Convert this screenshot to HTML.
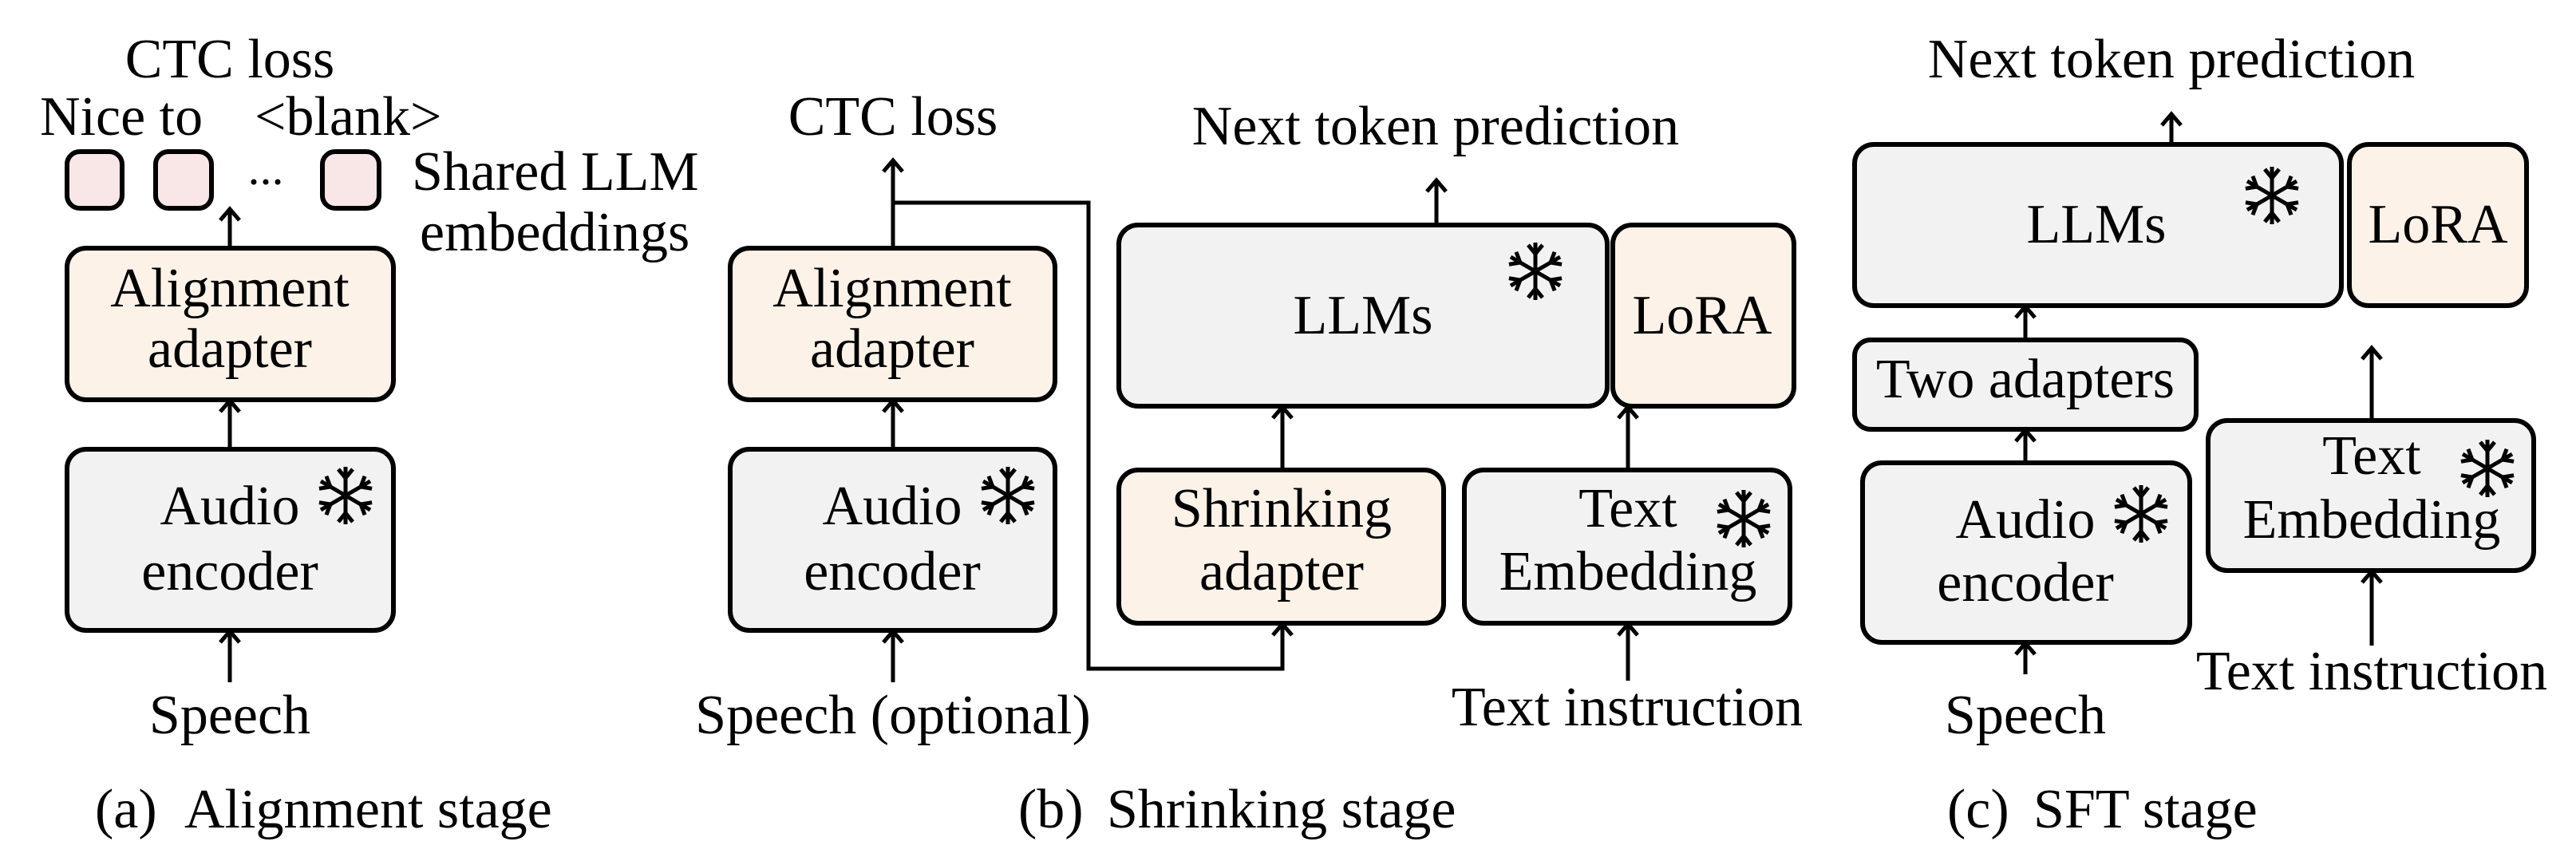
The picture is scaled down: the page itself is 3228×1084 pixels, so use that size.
<!DOCTYPE html>
<html><head><meta charset="utf-8"><style>
html,body{margin:0;padding:0;background:#fff}
svg{display:block}
text{font-family:"Liberation Serif","DejaVu Serif",serif;font-size:70px;fill:#000}
</style></head><body>
<svg width="3228" height="1084" viewBox="0 0 3228 1084" xmlns="http://www.w3.org/2000/svg">
<defs>
<g id="sf" stroke="#000" stroke-width="5" fill="none" stroke-linecap="butt">
  <line x1="0" y1="-36" x2="0" y2="36"/>
  <line x1="-31" y1="-18" x2="31" y2="18"/>
  <line x1="-31" y1="18" x2="31" y2="-18"/>
  <polyline points="-9,-33 0,-22 9,-33"/>
  <polyline points="-9,33 0,22 9,33"/>
  <g transform="rotate(60)"><polyline points="-9,-33 0,-22 9,-33"/><polyline points="-9,33 0,22 9,33"/></g>
  <g transform="rotate(-60)"><polyline points="-9,-33 0,-22 9,-33"/><polyline points="-9,33 0,22 9,33"/></g>
</g>
</defs>
<g stroke="#000" stroke-width="6">
  <!-- panel a -->
  <rect x="84" y="190" width="69" height="71" rx="16" fill="#f9e6e6"/>
  <rect x="195" y="190" width="70" height="71" rx="16" fill="#f9e6e6"/>
  <rect x="404" y="190" width="71" height="71" rx="16" fill="#f9e6e6"/>
  <rect x="84" y="311" width="409" height="190" rx="24" fill="#fcf2e8"/>
  <rect x="84" y="563" width="409" height="227" rx="24" fill="#f2f2f2"/>
  <!-- panel b -->
  <rect x="915" y="311" width="407" height="190" rx="24" fill="#fcf2e8"/>
  <rect x="915" y="563" width="407" height="227" rx="24" fill="#f2f2f2"/>
  <rect x="1402" y="282" width="612" height="227" rx="24" fill="#f2f2f2"/>
  <rect x="2021" y="282" width="227" height="227" rx="24" fill="#fcf2e8"/>
  <rect x="1402" y="589" width="407" height="192" rx="24" fill="#fcf2e8"/>
  <rect x="1835" y="589" width="408" height="192" rx="24" fill="#f2f2f2"/>
  <!-- panel c -->
  <rect x="2324" y="181" width="610" height="202" rx="24" fill="#f2f2f2"/>
  <rect x="2944" y="181" width="222" height="202" rx="24" fill="#fcf2e8"/>
  <rect x="2324" y="426" width="428" height="112" rx="20" fill="#f2f2f2"/>
  <rect x="2334" y="580" width="410" height="225" rx="24" fill="#f2f2f2"/>
  <rect x="2767" y="527" width="408" height="188" rx="24" fill="#f2f2f2"/>
</g>
<g stroke="#000" stroke-width="5" fill="none">
  <!-- arrows a -->
  <line x1="288" y1="311" x2="288" y2="263"/><polyline points="276,276 288,262 300,276"/>
  <line x1="288" y1="563" x2="288" y2="503"/><polyline points="276,516 288,502 300,516"/>
  <line x1="288" y1="855" x2="288" y2="792"/><polyline points="276,805 288,791 300,805"/>
  <!-- arrows b -->
  <polyline points="1119,311 1119,202"/><polyline points="1107,215 1119,201 1131,215"/>
  <polyline points="1119,254 1364,254 1364,838 1607,838 1607,783"/><polyline points="1595,796 1607,782 1619,796"/>
  <line x1="1119" y1="563" x2="1119" y2="503"/><polyline points="1107,516 1119,502 1131,516"/>
  <line x1="1119" y1="855" x2="1119" y2="792"/><polyline points="1107,805 1119,791 1131,805"/>
  <line x1="1800" y1="282" x2="1800" y2="227"/><polyline points="1788,240 1800,226 1812,240"/>
  <line x1="1607" y1="589" x2="1607" y2="511"/><polyline points="1595,524 1607,510 1619,524"/>
  <line x1="2040" y1="589" x2="2040" y2="511"/><polyline points="2028,524 2040,510 2052,524"/>
  <line x1="2040" y1="853" x2="2040" y2="783"/><polyline points="2028,796 2040,782 2052,796"/>
  <!-- arrows c -->
  <line x1="2721" y1="181" x2="2721" y2="144"/><polyline points="2709,157 2721,143 2733,157"/>
  <line x1="2538" y1="426" x2="2538" y2="385"/><polyline points="2526,398 2538,384 2550,398"/>
  <line x1="2538" y1="580" x2="2538" y2="540"/><polyline points="2526,553 2538,539 2550,553"/>
  <line x1="2538" y1="845" x2="2538" y2="807"/><polyline points="2526,820 2538,806 2550,820"/>
  <line x1="2972" y1="527" x2="2972" y2="437"/><polyline points="2960,450 2972,436 2984,450"/>
  <line x1="2972" y1="809" x2="2972" y2="717"/><polyline points="2960,730 2972,716 2984,730"/>
</g>
<circle cx="318" cy="228" r="3.5"/><circle cx="333" cy="228" r="3.5"/><circle cx="348" cy="228" r="3.5"/>
<!-- snowflakes -->
<use href="#sf" transform="translate(433,621)"/>
<use href="#sf" transform="translate(1263,621)"/>
<use href="#sf" transform="translate(1924,340)"/>
<use href="#sf" transform="translate(2185,650)"/>
<use href="#sf" transform="translate(2847,245)"/>
<use href="#sf" transform="translate(2683,644)"/>
<use href="#sf" transform="translate(3117,587)"/>
<!-- text a -->
<text x="288" y="97" text-anchor="middle">CTC loss</text>
<text x="50" y="169">Nice to</text>
<text x="319" y="169">&lt;blank&gt;</text>
<text x="516" y="238">Shared LLM</text>
<text x="526" y="314">embeddings</text>
<text x="288" y="384" text-anchor="middle">Alignment</text>
<text x="288" y="460" text-anchor="middle">adapter</text>
<text x="288" y="657" text-anchor="middle">Audio</text>
<text x="288" y="739" text-anchor="middle">encoder</text>
<text x="288" y="919" text-anchor="middle">Speech</text>
<text x="119" y="1037">(a)</text><text x="231" y="1037">Alignment stage</text>
<!-- text b -->
<text x="1119" y="169" text-anchor="middle">CTC loss</text>
<text x="1118" y="384" text-anchor="middle">Alignment</text>
<text x="1118" y="460" text-anchor="middle">adapter</text>
<text x="1118" y="657" text-anchor="middle">Audio</text>
<text x="1118" y="739" text-anchor="middle">encoder</text>
<text x="1119" y="919" text-anchor="middle">Speech (optional)</text>
<text x="1799" y="181" text-anchor="middle">Next token prediction</text>
<text x="1708" y="418" text-anchor="middle">LLMs</text>
<text x="2133" y="418" text-anchor="middle">LoRA</text>
<text x="1606" y="660" text-anchor="middle">Shrinking</text>
<text x="1606" y="739" text-anchor="middle">adapter</text>
<text x="2040" y="660" text-anchor="middle">Text</text>
<text x="2040" y="739" text-anchor="middle">Embedding</text>
<text x="2039" y="909" text-anchor="middle">Text instruction</text>
<text x="1276" y="1037">(b)</text><text x="1387" y="1037">Shrinking stage</text>
<!-- text c -->
<text x="2721" y="97" text-anchor="middle">Next token prediction</text>
<text x="2627" y="304" text-anchor="middle">LLMs</text>
<text x="3055" y="304" text-anchor="middle">LoRA</text>
<text x="2538" y="498" text-anchor="middle">Two adapters</text>
<text x="2538" y="674" text-anchor="middle">Audio</text>
<text x="2538" y="753" text-anchor="middle">encoder</text>
<text x="2538" y="919" text-anchor="middle">Speech</text>
<text x="2972" y="594" text-anchor="middle">Text</text>
<text x="2972" y="674" text-anchor="middle">Embedding</text>
<text x="2972" y="864" text-anchor="middle">Text instruction</text>
<text x="2440" y="1037">(c)</text><text x="2548" y="1037">SFT stage</text>
</svg>
</body></html>
